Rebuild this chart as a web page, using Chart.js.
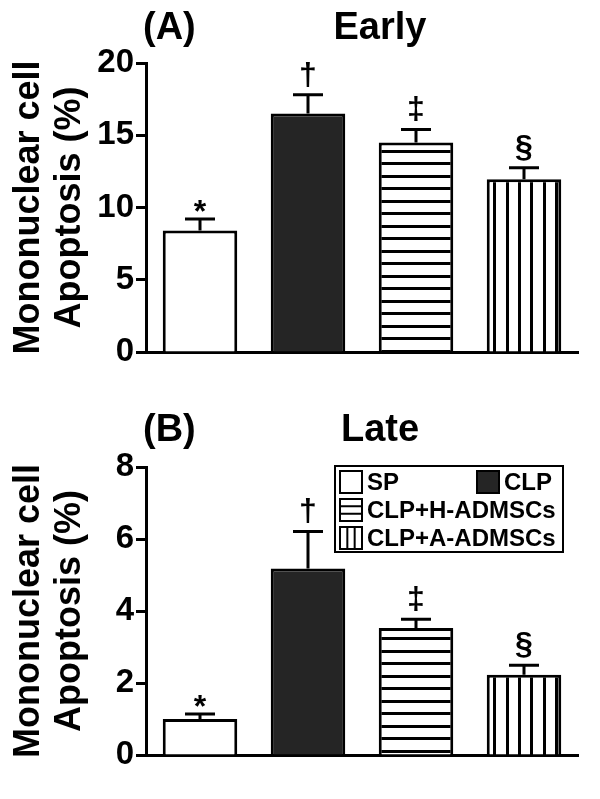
<!DOCTYPE html>
<html>
<head>
<meta charset="utf-8">
<script src="https://cdn.jsdelivr.net/npm/chart.js@4.4.1/dist/chart.umd.min.js"></script>
<style>
  html, body { margin: 0; padding: 0; background: #fff; }
  #wrap { position: relative; width: 600px; height: 799px; }
  canvas { position: absolute; left: 0; }
</style>
</head>
<body>
<div id="wrap">
  <canvas id="early" width="600" height="400" style="top:0"></canvas>
  <canvas id="late" width="600" height="399" style="top:400px"></canvas>
</div>
<script>
const groups = ['SP', 'CLP', 'CLP+H-ADMSCs', 'CLP+A-ADMSCs'];
const marks = ['*', '\u2020', '\u2021', '\u00A7'];

const earlyMean = [8.4, 16.5, 14.5, 11.95];
const earlySem = [0.8, 1.3, 0.9, 0.8];
const earlyTicks = [0, 5, 10, 15, 20];

const lateMean = [1.0, 5.18, 3.53, 2.23];
const lateSem = [0.14, 1.03, 0.24, 0.26];
const lateTicks = [0, 2, 4, 6, 8];

const FONT = 'Liberation Sans';

// striped fills, period about 12.5 px
function stripes(horizontal) {
  const c = document.createElement('canvas');
  c.width = horizontal ? 4 : 37;
  c.height = horizontal ? 25 : 4;
  const g = c.getContext('2d');
  g.fillStyle = '#fff';
  g.fillRect(0, 0, c.width, c.height);
  g.fillStyle = '#000';
  if (horizontal) {
    g.fillRect(0, 0, 4, 3);
    g.fillRect(0, 12, 4, 3);
  } else {
    g.fillRect(0, 0, 3, 4);
    g.fillRect(12, 0, 3, 4);
    g.fillRect(25, 0, 3, 4);
  }
  return g.createPattern(c, 'repeat');
}

const fills = ['#ffffff', '#252525', stripes(true), stripes(false)];

// upper error bars + significance marks
const errorBars = {
  id: 'errorBars',
  afterDatasetsDraw(chart, args, opts) {
    const ctx = chart.ctx;
    const y = chart.scales.y;
    const meta = chart.getDatasetMeta(0);
    ctx.save();
    ctx.strokeStyle = '#000';
    ctx.fillStyle = '#000';
    ctx.lineWidth = 3;
    ctx.font = 'bold 32px "' + FONT + '"';
    ctx.textAlign = 'center';
    ctx.textBaseline = 'alphabetic';
    meta.data.forEach((bar, i) => {
      const top = y.getPixelForValue(opts.mean[i] + opts.sem[i]);
      ctx.beginPath();
      ctx.moveTo(bar.x, bar.y);
      ctx.lineTo(bar.x, top);
      ctx.moveTo(bar.x - 15, top);
      ctx.lineTo(bar.x + 15, top);
      ctx.stroke();
      const m = ctx.measureText(marks[i]);
      ctx.fillText(marks[i], bar.x, top - 7 - m.actualBoundingBoxDescent);
    });
    ctx.restore();
  }
};

// panel letter and heading
const heading = {
  id: 'heading',
  afterDraw(chart, args, opts) {
    const ctx = chart.ctx;
    const a = chart.chartArea;
    ctx.save();
    ctx.fillStyle = '#000';
    ctx.font = 'bold 38px "' + FONT + '"';
    ctx.textBaseline = 'alphabetic';
    ctx.textAlign = 'left';
    ctx.fillText(opts.letter, a.left - 3, opts.baseline);
    ctx.textAlign = 'center';
    ctx.fillText(opts.text, a.left + 234, opts.baseline);
    ctx.restore();
  }
};

// boxed legend in the late panel
const boxLegend = {
  id: 'boxLegend',
  afterDraw(chart, args, opts) {
    if (!opts.show) return;
    const ctx = chart.ctx;
    const a = chart.chartArea;
    const x0 = a.left + 189, y0 = a.top - 1, w = 228, h = 86;
    const fillsUsed = chart.data.datasets[0].backgroundColor;
    ctx.save();
    ctx.strokeStyle = '#000';
    ctx.lineWidth = 2;
    ctx.strokeRect(x0, y0, w, h);
    ctx.font = 'bold 24px "' + FONT + '"';
    ctx.textBaseline = 'middle';
    ctx.textAlign = 'left';
    const items = [
      { i: 0, x: x0 + 5, y: y0 + 16 },
      { i: 1, x: x0 + 142, y: y0 + 16 },
      { i: 2, x: x0 + 5, y: y0 + 44 },
      { i: 3, x: x0 + 5, y: y0 + 72 }
    ];
    items.forEach(it => {
      const s = 22, sx = it.x, sy = it.y - s / 2;
      ctx.fillStyle = it.i === 1 ? fillsUsed[1] : '#fff';
      ctx.fillRect(sx, sy, s, s);
      ctx.beginPath();
      if (it.i === 2) {
        for (let k = 1; k < 3; k++) { ctx.moveTo(sx, sy + k * s / 3); ctx.lineTo(sx + s, sy + k * s / 3); }
      } else if (it.i === 3) {
        for (let k = 1; k < 3; k++) { ctx.moveTo(sx + k * s / 3, sy); ctx.lineTo(sx + k * s / 3, sy + s); }
      }
      ctx.stroke();
      ctx.strokeRect(sx, sy, s, s);
      ctx.fillStyle = '#000';
      ctx.fillText(groups[it.i], sx + s + 5, it.y + 1);
    });
    ctx.restore();
  }
};

function makeChart(id, mean, sem, ticks, max, letter, text, baseline, padTop, xHeight, showLegend) {
  return new Chart(document.getElementById(id), {
    type: 'bar',
    data: {
      labels: groups,
      datasets: [{
        data: mean,
        backgroundColor: fills,
        borderColor: '#000',
        borderWidth: 3,
        barPercentage: 0.69,
        categoryPercentage: 1
      }]
    },
    options: {
      responsive: false,
      animation: false,
      devicePixelRatio: 1,
      layout: { padding: { top: padTop, right: 22, bottom: 0, left: 0 } },
      plugins: {
        legend: { display: false },
        tooltip: { enabled: false },
        errorBars: { mean: mean, sem: sem },
        heading: { letter: letter, text: text, baseline: baseline },
        boxLegend: { show: showLegend }
      },
      scales: {
        x: {
          afterFit: s => { s.height = xHeight; },
          ticks: { display: false },
          grid: { display: true, drawOnChartArea: false, drawTicks: false },
          border: { display: true, color: '#000', width: 3 }
        },
        y: {
          min: 0,
          max: max,
          afterBuildTicks: s => { s.ticks = ticks.map(v => ({ value: v })); },
          afterFit: s => { s.width = 146; },
          grid: { drawOnChartArea: false, drawTicks: true, tickLength: 10, tickWidth: 3, tickColor: '#000' },
          border: { display: true, color: '#000', width: 3 },
          ticks: { color: '#000', padding: 2, font: { family: FONT, weight: 'bold', size: 33 } },
          title: {
            display: true,
            text: ['Mononuclear cell', 'Apoptosis (%)'],
            color: '#000',
            padding: { top: 8, bottom: 0 },
            font: { family: FONT, weight: 'bold', size: 36, lineHeight: 1.15 }
          }
        }
      }
    },
    plugins: [errorBars, heading, boxLegend]
  });
}

makeChart('early', earlyMean, earlySem, earlyTicks, 20, '(A)', 'Early', 39, 63, 48, false);
makeChart('late', lateMean, lateSem, lateTicks, 8, '(B)', 'Late', 41, 67, 44, true);
</script>
</body>
</html>
